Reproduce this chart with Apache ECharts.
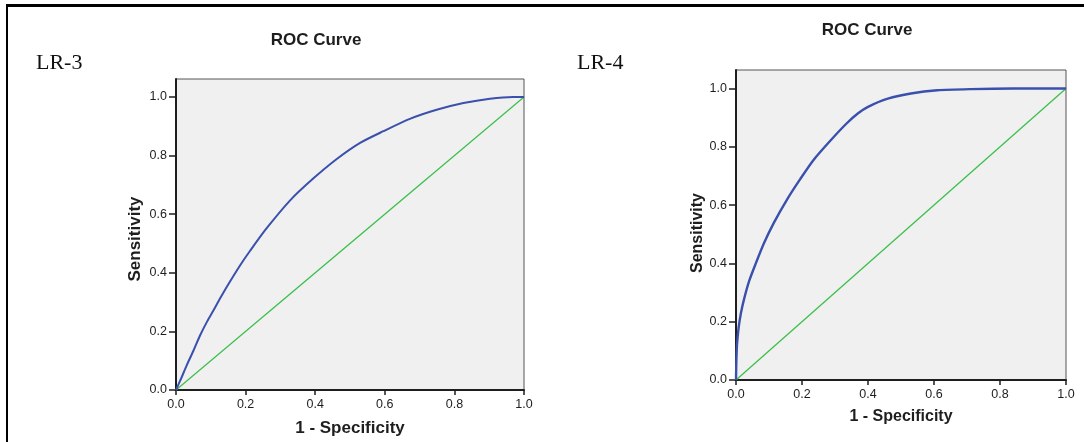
<!DOCTYPE html>
<html>
<head>
<meta charset="utf-8">
<title>ROC Curves</title>
<script src="https://cdn.jsdelivr.net/npm/echarts@6/dist/echarts.min.js"></script>
<style>
  html, body { margin: 0; padding: 0; background: #ffffff; }
  #chart { width: 1084px; height: 442px; }
</style>
</head>
<body>
<div id="chart"></div>
<script>
// LR-3 model: false positive rate (1 - specificity) and sensitivity
const lr3Fpr = [0, 0.015, 0.031, 0.05, 0.069, 0.09, 0.107, 0.126, 0.15, 0.184, 0.213, 0.26, 0.328, 0.395, 0.462, 0.529, 0.596, 0.672, 0.749, 0.826, 0.902, 0.969, 1];
const lr3Tpr = [0, 0.04, 0.085, 0.134, 0.186, 0.235, 0.27, 0.311, 0.36, 0.425, 0.475, 0.551, 0.647, 0.722, 0.788, 0.843, 0.883, 0.925, 0.956, 0.979, 0.994, 1.0, 1];

// LR-4 model
const lr4Fpr = [0, 0.001, 0.003, 0.008, 0.015, 0.025, 0.04, 0.06, 0.085, 0.115, 0.155, 0.195, 0.235, 0.285, 0.335, 0.37, 0.40, 0.46, 0.53, 0.61, 0.71, 0.84, 1];
const lr4Tpr = [0, 0.06, 0.12, 0.18, 0.23, 0.28, 0.34, 0.40, 0.47, 0.54, 0.62, 0.69, 0.755, 0.82, 0.88, 0.915, 0.937, 0.965, 0.983, 0.994, 0.998, 1.0, 1];

// chance diagonal
const refX = [0, 1];
const refY = [0, 1];

const tickValues = [0, 0.2, 0.4, 0.6, 0.8, 1.0];
const panelLabels = ['LR-3', 'LR-4'];
const chartTitle = 'ROC Curve';
const xName = '1 - Specificity';
const yName = 'Sensitivity';

const FONT = '"Liberation Sans", Arial, sans-serif';
const BLUE = '#3a50ad';
const GREEN = '#3cbf4b';
const INK = '#1e1e1e';

const zip = (xs, ys) => xs.map((x, i) => [x, ys[i]]);

function xAxisFor(gridIndex, nameGap, nameSize) {
  return {
    type: 'value', gridIndex, min: 0, max: 1, interval: 0.2,
    name: xName, nameLocation: 'middle', nameGap,
    nameTextStyle: { fontFamily: FONT, fontWeight: 'bold', fontSize: nameSize, color: INK },
    axisLine: { show: true, lineStyle: { color: INK, width: 2 } },
    axisTick: { show: true, inside: false, length: 5, lineStyle: { color: INK, width: 1.5 } },
    axisLabel: { margin: 8, fontFamily: FONT, fontSize: 12.5, color: INK,
                 formatter: v => v.toFixed(1), showMinLabel: true, showMaxLabel: true, hideOverlap: false },
    splitLine: { show: false }
  };
}

// namePad shifts the rotated axis title down along the axis
function yAxisFor(gridIndex, max, nameGap, nameSize, namePad) {
  return {
    type: 'value', gridIndex, min: 0, max,
    name: yName, nameLocation: 'middle', nameGap,
    nameTextStyle: { fontFamily: FONT, fontWeight: 'bold', fontSize: nameSize, color: INK,
                     padding: [0, namePad, 0, 0] },
    axisLine: { show: true, lineStyle: { color: INK, width: 2 } },
    axisTick: { show: true, inside: false, length: 7, customValues: tickValues,
                lineStyle: { color: INK, width: 1.5 } },
    axisLabel: { margin: 9, fontFamily: FONT, fontSize: 12.5, color: INK,
                 customValues: tickValues, formatter: v => v.toFixed(1) },
    splitLine: { show: false }
  };
}

function curve(name, idx, data, color, width, smooth) {
  return {
    name, type: 'line', xAxisIndex: idx, yAxisIndex: idx,
    data, showSymbol: false, smooth, silent: true, animation: false,
    lineStyle: { color, width }
  };
}

const option = {
  animation: false,
  backgroundColor: '#ffffff',
  grid: [
    { left: 176, top: 79, width: 348, height: 313, show: true,
      backgroundColor: '#f0f0f0', borderColor: '#555555', borderWidth: 1 },
    { left: 736, top: 70, width: 330, height: 310, show: true,
      backgroundColor: '#f0f0f0', borderColor: '#555555', borderWidth: 1 }
  ],
  xAxis: [xAxisFor(0, 30, 17), xAxisFor(1, 29, 16)],
  yAxis: [yAxisFor(0, 1.061, 32, 17, 9), yAxisFor(1, 1.0635, 30, 16, 16)],
  series: [
    curve('Reference LR-3', 0, zip(refX, refY), GREEN, 1.3, false),
    curve('LR-3', 0, zip(lr3Fpr, lr3Tpr), BLUE, 2, 0.25),
    curve('Reference LR-4', 1, zip(refX, refY), GREEN, 1.3, false),
    curve('LR-4', 1, zip(lr4Fpr, lr4Tpr), BLUE, 2.4, 0.25)
  ],
  graphic: [
    // page frame: top and left rules
    { type: 'line', silent: true, shape: { x1: 6, y1: 5.5, x2: 1084, y2: 5.5 },
      style: { stroke: '#000000', lineWidth: 3 } },
    { type: 'line', silent: true, shape: { x1: 7, y1: 4, x2: 7, y2: 442 },
      style: { stroke: '#000000', lineWidth: 2 } },
    // panel tags
    { type: 'text', silent: true, style: { x: 36, y: 52, text: panelLabels[0],
      fontFamily: '"Liberation Serif", "Times New Roman", serif', fontSize: 22, fill: '#111',
      textAlign: 'left', textVerticalAlign: 'alphabetic' } },
    { type: 'text', silent: true, style: { x: 577, y: 52, text: panelLabels[1],
      fontFamily: '"Liberation Serif", "Times New Roman", serif', fontSize: 22, fill: '#111',
      textAlign: 'left', textVerticalAlign: 'alphabetic' } },
    // panel titles
    { type: 'text', silent: true, style: { x: 316, y: 40, text: chartTitle,
      fontFamily: FONT, fontWeight: 'bold', fontSize: 17, fill: INK,
      textAlign: 'center', textVerticalAlign: 'middle' } },
    { type: 'text', silent: true, style: { x: 867, y: 30, text: chartTitle,
      fontFamily: FONT, fontWeight: 'bold', fontSize: 17, fill: INK,
      textAlign: 'center', textVerticalAlign: 'middle' } }
  ]
};

const chart = echarts.init(document.getElementById('chart'), null, { renderer: 'canvas' });
chart.setOption(option);
</script>
</body>
</html>
